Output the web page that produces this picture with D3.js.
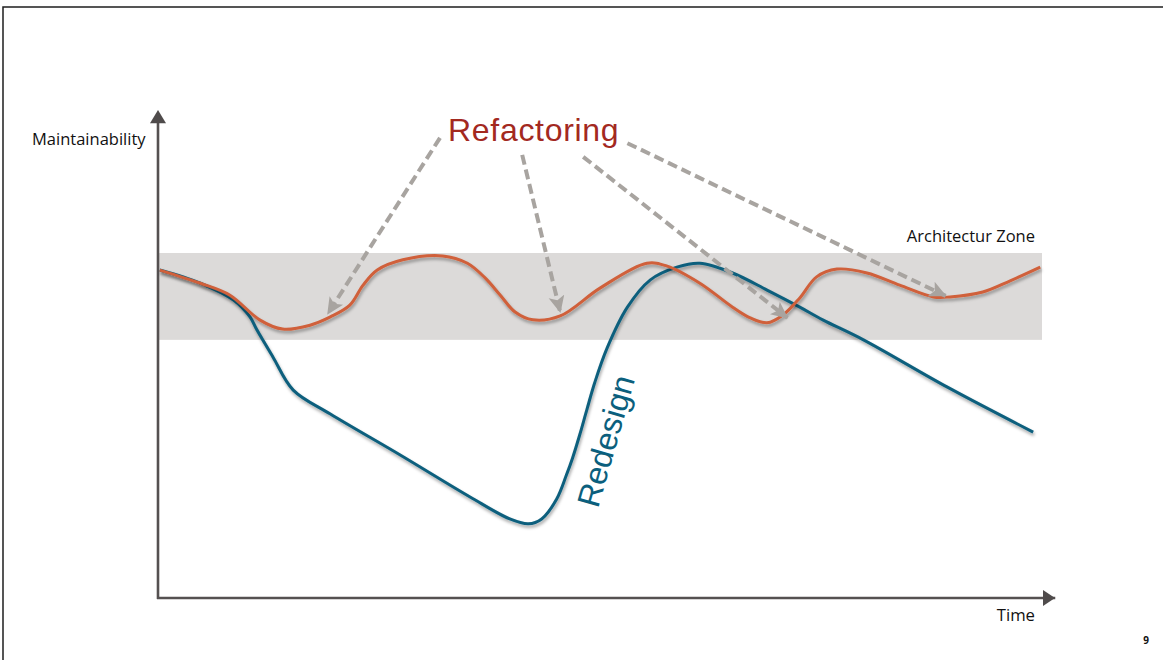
<!DOCTYPE html>
<html><head><meta charset="utf-8">
<script src="https://cdn.jsdelivr.net/npm/d3@7/dist/d3.min.js"></script>
<style>html,body{margin:0;padding:0;background:#fff;}svg{display:block;}</style>
</head><body>
<svg id="chart" width="1163" height="660"></svg>
<script>
// ---- data (time 0..100, maintainability 0..100) ----
const refactoringT = [0.2,4.8,8.1,11.5,14.1,17.2,19.5,21.7,23.2,24.8,27.7,32.2,35.0,37.0,38.7,40.4,42.4,45.5,50.0,55.3,57.6,61.3,65.0,67.0,68.9,70.7,72.6,74.5,76.8,80.2,83.9,87.7,89.6,93.3,96.4,99.8];
const refactoringM = [67.2,64.5,62.1,57.0,55.1,55.9,57.6,60.0,64.1,67.2,69.3,70.1,68.6,65.6,62.1,58.6,57.0,57.8,63.5,68.6,68.0,64.5,59.6,57.4,56.4,58.0,61.5,65.8,67.4,66.6,64.1,61.7,61.7,62.7,65.0,67.8];
const redesignT = [0.2,4.8,8.5,10.4,11.2,13.0,15.3,19.5,27.4,35.3,39.8,41.9,43.4,45.1,46.2,46.9,47.7,48.5,49.4,50.8,53.1,55.7,58.7,61.3,65.0,68.9,72.6,75.2,79.8,89.3,99.0];
const redesignM = [67.2,64.5,61.1,57.6,54.9,49.4,42.6,37.7,29.3,20.7,16.2,15.2,16.2,20.3,25.2,28.7,33.4,38.5,44.1,51.2,59.6,65.2,67.8,68.6,66.6,63.1,59.6,57.0,52.9,43.2,34.0];
const zone = [52.9, 70.7];
// refactoring annotations: from label to curve
const arrowFromT = [31.9, 41.2, 48.1, 53.1];
const arrowFromM = [94.3, 90.8, 90.4, 93.2];
const arrowToT   = [19.2, 45.5, 71.2, 89.1];
const arrowToM   = [58.2, 58.6, 57.4, 61.9];
const labels = {y:"Maintainability", x:"Time", zone:"Architectur Zone", refactoring:"Refactoring", redesign:"Redesign", page:"9"};

const svg = d3.select("#chart");
const x = d3.scaleLinear().domain([0,100]).range([158,1042]);
const y = d3.scaleLinear().domain([0,100]).range([598,110]);

const defs = svg.append("defs");
const sh = defs.append("filter").attr("id","shadow").attr("x","-10%").attr("y","-10%").attr("width","120%").attr("height","130%");
sh.append("feDropShadow").attr("dx",1).attr("dy",2.5).attr("stdDeviation",1.6).attr("flood-color","#000").attr("flood-opacity",0.35);
const rough = defs.append("filter").attr("id","rough").attr("filterUnits","userSpaceOnUse")
  .attr("x",140).attr("y",95).attr("width",940).attr("height",520);
rough.append("feTurbulence").attr("type","fractalNoise").attr("baseFrequency",0.9).attr("numOctaves",2).attr("result","n");
rough.append("feDisplacementMap").attr("in","SourceGraphic").attr("in2","n").attr("scale",1.3);
defs.append("marker").attr("id","ah").attr("markerUnits","userSpaceOnUse")
  .attr("viewBox","0 -9 17 18").attr("refX",16).attr("refY",0)
  .attr("markerWidth",17).attr("markerHeight",18).attr("orient","auto")
  .append("path").attr("d","M0,-8 L17,0 L0,8 L4,0 Z").attr("fill","#a8a4a0");

// slide border
svg.append("path").attr("d","M3,660 L3,7 L1163,7").attr("fill","none").attr("stroke","#1e1e1e").attr("stroke-width",1.5);

// zone
svg.append("rect").attr("x",x(0)).attr("width",x(100)-x(0))
  .attr("y",y(zone[1])).attr("height",y(zone[0])-y(zone[1])).attr("fill","#dcdad9");

// axes
const axisG = svg.append("g").attr("filter","url(#rough)");
axisG.append("line").attr("x1",x(0)).attr("x2",x(0)).attr("y1",y(0)+1).attr("y2",y(97.5)).attr("stroke","#555151").attr("stroke-width",2.6);
axisG.append("line").attr("x1",x(0)-1).attr("x2",x(101.5)).attr("y1",y(0)).attr("y2",y(0)).attr("stroke","#555151").attr("stroke-width",2.6);
axisG.append("path").attr("d",`M${x(0)},${y(100)} L${x(0)+8},${y(97.3)} L${x(0)-8},${y(97.3)} Z`).attr("fill","#4f4b4b");
axisG.append("path").attr("d",`M${x(100)+13},${y(0)} L${x(100)+1},${y(0)-8} L${x(100)+1},${y(0)+8} Z`).attr("fill","#4f4b4b");

// curves
const line = d3.line().x(d=>x(d[0])).y(d=>y(d[1])).curve(d3.curveCatmullRom.alpha(0.5));
svg.append("path").datum(d3.zip(redesignT, redesignM)).attr("d",line)
  .attr("fill","none").attr("stroke","#0b5f7d").attr("stroke-width",3).attr("filter","url(#shadow)");
svg.append("path").datum(d3.zip(refactoringT, refactoringM)).attr("d",line)
  .attr("fill","none").attr("stroke","#d0603a").attr("stroke-width",3).attr("filter","url(#shadow)");

// dashed arrows
arrowFromT.forEach((t,i)=>{
  svg.append("line").attr("x1",x(t)).attr("y1",y(arrowFromM[i]))
    .attr("x2",x(arrowToT[i])).attr("y2",y(arrowToM[i]))
    .attr("stroke","#a8a4a0").attr("stroke-width",4).attr("stroke-dasharray","10,5")
    .attr("marker-end","url(#ah)");
});

// text
svg.append("text").attr("x",448).attr("y",141).attr("font-family","Liberation Sans, Arial, sans-serif")
  .attr("font-size",32).attr("letter-spacing",0.7).attr("fill","#a3291f").text(labels.refactoring);
svg.append("text").attr("transform","translate(598,509) rotate(-74)").attr("font-family","Liberation Sans, Arial, sans-serif")
  .attr("font-size",32).attr("fill","#0b5f7d").text(labels.redesign);
const lf = "Open Sans, sans-serif";
svg.append("text").attr("x",32).attr("y",145).attr("font-family",lf).attr("font-size",16.5).attr("fill","#111").text(labels.y);
svg.append("text").attr("x",1035).attr("y",242).attr("text-anchor","end").attr("font-family",lf).attr("font-size",16.5).attr("fill","#111").text(labels.zone);
svg.append("text").attr("x",1035).attr("y",621).attr("text-anchor","end").attr("font-family",lf).attr("font-size",16.7).attr("fill","#111").text(labels.x);
svg.append("text").attr("x",1146).attr("y",644).attr("text-anchor","middle").attr("font-family",lf).attr("font-weight","bold").attr("font-size",10).attr("fill","#111").text(labels.page);
</script>
</body></html>
